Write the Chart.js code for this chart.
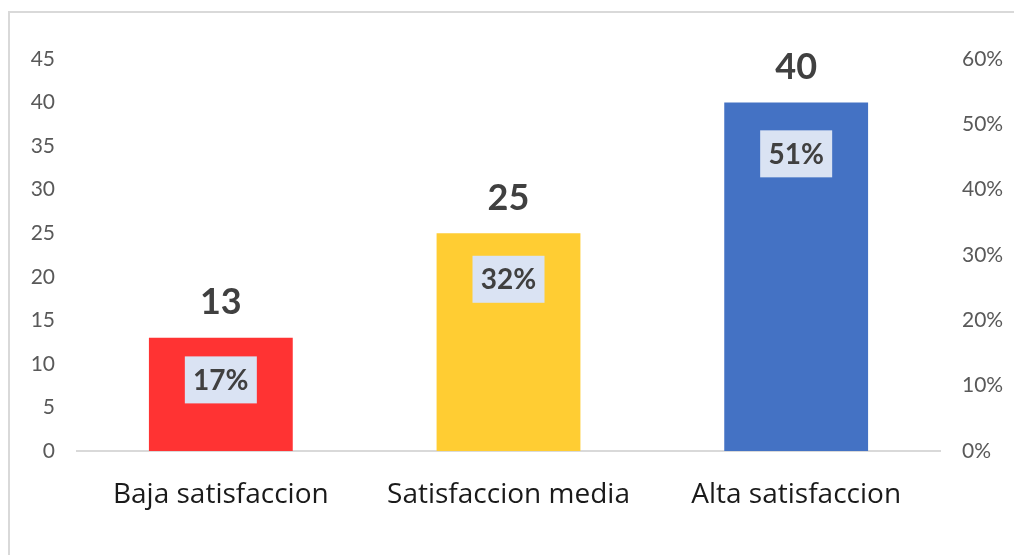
<!DOCTYPE html>
<html>
<head>
<meta charset="utf-8">
<script src="https://cdn.jsdelivr.net/npm/chart.js@4/dist/chart.umd.min.js"></script>
<style>
html,body{margin:0;padding:0;background:#fff;}
#wrap{position:relative;width:1014px;height:555px;}
</style>
</head>
<body>
<div id="wrap"><canvas id="c" width="1014" height="555"></canvas></div>
<script>
const categories = ["Baja satisfaccion", "Satisfaccion media", "Alta satisfaccion"];
const counts = [13, 25, 40];
const percents = [16.7, 32.1, 51.3];
const percentLabels = ["17%", "32%", "51%"];
const barColors = ["#FF3333", "#FFCD33", "#4472C4"];

const FONT = "Lato, 'Open Sans', sans-serif";
const CAT_FONT = "'Open Sans', Lato, sans-serif";

const framePlugin = {
  id: 'frame',
  beforeDraw(chart) {
    const ctx = chart.ctx;
    ctx.save();
    ctx.fillStyle = '#fff';
    ctx.fillRect(0, 0, chart.width, chart.height);
    ctx.strokeStyle = '#D9D9D9';
    ctx.lineWidth = 2;
    ctx.beginPath();
    ctx.moveTo(9, chart.height);
    ctx.lineTo(9, 12);
    ctx.lineTo(chart.width, 12);
    ctx.stroke();
    ctx.restore();
  }
};

const labelPlugin = {
  id: 'labels',
  afterDatasetsDraw(chart) {
    const ctx = chart.ctx;
    ctx.save();
    ctx.textAlign = 'center';
    ctx.textBaseline = 'middle';
    const barMeta = chart.getDatasetMeta(0);
    barMeta.data.forEach((bar, i) => {
      ctx.fillStyle = '#404040';
      ctx.font = "bold 36px " + FONT;
      ctx.fillText(String(counts[i]), bar.x, bar.y - 35);
    });
    const pMeta = chart.getDatasetMeta(1);
    pMeta.data.forEach((pt, i) => {
      const cy = pt.y + 38;
      ctx.fillStyle = '#DAE3F3';
      ctx.fillRect(pt.x - 36, cy - 23.5, 72, 47);
      ctx.fillStyle = '#404040';
      ctx.font = "bold 28px " + FONT;
      ctx.fillText(percentLabels[i], pt.x, cy + 1);
    });
    ctx.restore();
  }
};

new Chart(document.getElementById('c'), {
  data: {
    labels: categories,
    datasets: [
      {
        type: 'bar',
        data: counts,
        backgroundColor: barColors,
        yAxisID: 'y',
        categoryPercentage: 1,
        barPercentage: 0.5,
        order: 2
      },
      {
        type: 'line',
        data: percents,
        yAxisID: 'y2',
        showLine: false,
        pointRadius: 0,
        pointHoverRadius: 0,
        order: 1
      }
    ]
  },
  options: {
    responsive: false,
    animation: false,
    events: [],
    layout: { padding: { top: 59, bottom: 0, left: 0, right: 0 } },
    plugins: { legend: { display: false }, tooltip: { enabled: false } },
    scales: {
      x: {
        grid: { display: false, drawTicks: false },
        border: { display: true, color: '#D9D9D9', width: 2 },
        ticks: { color: '#1a1a1a', font: { family: CAT_FONT, size: 28 }, padding: 27 },
        afterFit(s) { s.height = 104; }
      },
      y: {
        position: 'left',
        min: 0, max: 45,
        ticks: { stepSize: 5, color: '#595959', font: { family: FONT, size: 21 }, padding: 22 },
        grid: { display: false, drawTicks: false },
        border: { display: false },
        afterFit(s) { s.width = 77; }
      },
      y2: {
        position: 'right',
        min: 0, max: 60,
        ticks: { stepSize: 10, color: '#595959', font: { family: FONT, size: 21 }, padding: 22,
          callback: v => v + '%' },
        grid: { display: false, drawTicks: false },
        border: { display: false },
        afterFit(s) { s.width = 74; }
      }
    }
  },
  plugins: [framePlugin, labelPlugin]
});
</script>
</body>
</html>
